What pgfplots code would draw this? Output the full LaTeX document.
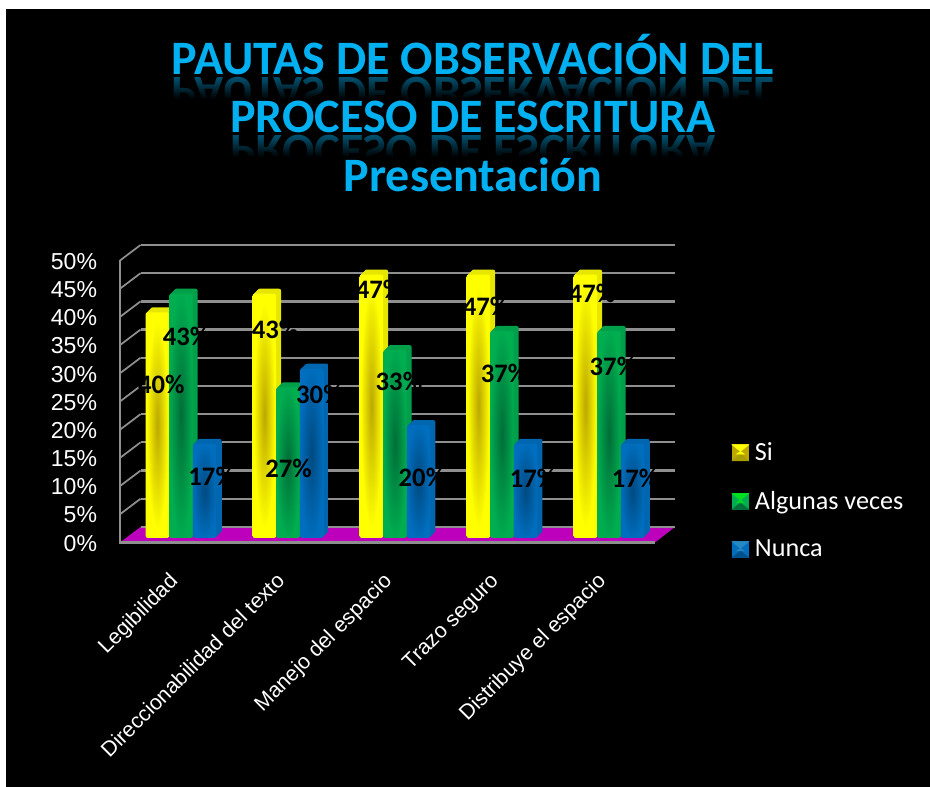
\documentclass[border=0pt]{standalone}
\usepackage{fontspec}
\setmainfont{Liberation Sans}
\newfontfamily\carlito{Carlito}
\usepackage{pgfplots}
\usetikzlibrary{fadings}
\pgfplotsset{compat=1.18}

\definecolor{ybr}{HTML}{FFFF00}\definecolor{ydk}{HTML}{BCA800}\definecolor{ysd}{HTML}{A89E00}\definecolor{ycap}{HTML}{E6E600}
\definecolor{gbr}{HTML}{00AE50}\definecolor{gdk}{HTML}{006E38}\definecolor{gsd}{HTML}{00703A}\definecolor{gcap}{HTML}{00A04A}
\definecolor{bbr}{HTML}{006EBE}\definecolor{bdk}{HTML}{004A80}\definecolor{bsd}{HTML}{00508E}\definecolor{bcap}{HTML}{0066B0}
\definecolor{ttl}{HTML}{00B0F0}
\definecolor{gridc}{HTML}{8F8F8F}
\definecolor{floorc}{HTML}{BC00BC}

\pgfdeclareradialshading{yb}{\pgfpointorigin}{color(0bp)=(ydk); color(23bp)=(ybr); color(50bp)=(ybr)}
\pgfdeclareradialshading{gb}{\pgfpointorigin}{color(0bp)=(gdk); color(26bp)=(gbr); color(50bp)=(gbr)}
\pgfdeclareradialshading{bb}{\pgfpointorigin}{color(0bp)=(bdk); color(26bp)=(bbr); color(50bp)=(bbr)}

\tikzfading[name=fadeout,top color=transparent!100,bottom color=transparent!0]

\pgfplotstableread{
x v1 v2 v3
0 40 43.3 16.7
1 43.3 26.7 30
2 46.7 33.3 20
3 46.7 36.7 16.7
4 46.7 36.7 16.7
}\datatable

\pgfplotstableread{
x y m
-0.114 28.1 40
0.949 37.85 43
1.921 44.8 47
2.921 41.8 47
3.911 44.2 47
0.117 36.6 43
1.075 13.2 27
2.107 28.5 33
3.089 29.9 37
4.107 31.3 37
0.357 11.8 17
1.364 26.3 30
2.322 11.6 20
3.36 11.4 17
4.313 11.4 17
}\labeltable

\tikzset{
 yfront/.style={shade,shading=yb}, gfront/.style={shade,shading=gb}, bfront/.style={shade,shading=bb},
 yside/.style={top color=ycap,middle color=ysd,bottom color=ycap},
 gside/.style={top color=gcap,middle color=gsd,bottom color=gcap},
 bside/.style={top color=bcap,middle color=bsd,bottom color=bcap},
}

% domain, column, style, bar shift, xshift, yshift
\newcommand\barlayer[6]{\addplot[ybar,forget plot,restrict x to domain=#1,bar width=17.6pt,bar shift=#4,draw=none,#3,xshift=#5,yshift=#6,rounded corners=1.5pt] table[x=x,y=#2]{\datatable};}
% domain, column, side, front, bar shift
\newcommand\onebar[5]{%
 \barlayer{#1}{#2}{#3}{#5}{9.35pt}{7.15pt}
 \barlayer{#1}{#2}{#3}{#5}{8.6pt}{6.4pt}
 \barlayer{#1}{#2}{#3}{#5}{7.85pt}{5.65pt}
 \barlayer{#1}{#2}{#3}{#5}{7.1pt}{4.9pt}
 \barlayer{#1}{#2}{#3}{#5}{6.35pt}{4.15pt}
 \barlayer{#1}{#2}{#4}{#5}{5.6pt}{3.4pt}
}
\newcommand\barseries[4]{%
 \onebar{-0.4:0.4}{#1}{#2}{#3}{#4}
 \onebar{0.6:1.4}{#1}{#2}{#3}{#4}
 \onebar{1.6:2.4}{#1}{#2}{#3}{#4}
 \onebar{2.6:3.4}{#1}{#2}{#3}{#4}
 \onebar{3.6:4.4}{#1}{#2}{#3}{#4}
}
\newcommand\pyr[4]{%
 \fill[#1] (0,-6pt) rectangle (12.4pt,6pt);
 \fill[#2] (0,6pt) -- (12.4pt,6pt) -- (6.2pt,1pt) -- cycle;
 \fill[#3] (0,-6pt) -- (12.4pt,-6pt) -- (6.2pt,-1pt) -- cycle;
 \fill[#4] (6.2pt,1pt) -- (3.2pt,-1pt) -- (9.2pt,-1pt) -- cycle;
}
\newcommand\titlefont{\carlito\bfseries\fontsize{36pt}{36pt}\selectfont}
\newcommand\mirror[2]{%
 \node[anchor=base,yscale=-1,text=ttl!45!black,font=\titlefont,inner sep=0pt] at (354.7pt,{(787-#2-3)*0.75pt}) {#1};
 \fill[black,path fading=fadeout] (100pt,{(787-#2-3)*0.75pt}) rectangle (600pt,{(787-#2-24)*0.75pt});
 \fill[black] (100pt,{(787-#2-24)*0.75pt}) rectangle (600pt,{(787-#2-46)*0.75pt});
}

\begin{document}
\begin{tikzpicture}[x=1pt,y=1pt]
\fill[white] (0,0) rectangle (697.5,590.25);
\fill[black] (4.5,0) rectangle (697.5,583.5);

\mirror{PAUTAS DE OBSERVACIÓN DEL}{75}
\mirror{PROCESO DE ESCRITURA}{133}
\node[anchor=base,text=ttl,font=\titlefont,inner sep=0pt] at (354.7pt,{(787-75)*0.75pt}) {PAUTAS DE OBSERVACIÓN DEL};
\node[anchor=base,text=ttl,font=\titlefont,inner sep=0pt] at (354.7pt,{(787-133)*0.75pt}) {PROCESO DE ESCRITURA};
\node[anchor=base,text=ttl,font=\titlefont,inner sep=0pt] at (354.7pt,{(787-192)*0.75pt}) {Presentación};

\begin{axis}[
 at={(90pt,183.4pt)},anchor=south west,
 scale only axis,width=416.25pt,height=223.1pt,
 xmin=-0.5,xmax=4.687,ymin=0,ymax=52.75,
 clip=false,
 axis line style={draw=none},
 major tick length=0pt,
 xtick={0,1,2,3,4},
 xticklabels={Legibilidad,Direccionabilidad del texto,Manejo del espacio,Trazo seguro,Distribuye el espacio},
 x tick label style={rotate=45,anchor=north east,inner sep=0pt,font=\fontsize{16pt}{16pt}\selectfont,text=white,xshift=-18.2pt,yshift=-12.2pt},
 ytick={0,5,10,15,20,25,30,35,40,45,50},
 yticklabels={0\%,5\%,10\%,15\%,20\%,25\%,30\%,35\%,40\%,45\%,50\%},
 y tick label style={font=\fontsize{17.3pt}{17.3pt}\selectfont,text=white,anchor=east,inner sep=0pt,xshift=-17pt,yshift=-0.6pt},
 legend style={at={(rel axis cs:1.102,0.345)},anchor=north west,draw=none,fill=none,
   text=white,font=\carlito\fontsize{19.6pt}{19.6pt}\selectfont,row sep=17.5pt,inner sep=0pt},
 legend cell align=left,
]
\addplot[forget plot,fill=floorc,draw=none] coordinates {(-0.5,0) (-0.308,2.75) (4.687,2.75) (4.5,0)} -- cycle;
\pgfplotsinvokeforeach{2.75,7.75,12.75,17.75,22.75,27.75,32.75,37.75,42.75,47.75,52.75}{
 \addplot[forget plot,gridc,line width=1.7pt] coordinates {(-0.308,#1) (4.687,#1)};
}
\pgfplotsinvokeforeach{5,10,15,20,25,30,35,40,45,50}{
 \addplot[forget plot,gridc,line width=1.3pt] coordinates {(-0.5,#1) (-0.308,#1+2.75)};
}
\addplot[forget plot,gridc,line width=1.7pt] coordinates {(-0.5,50) (-0.5,0) (4.5,0)};
\barseries{v1}{yside}{yfront}{-17.7pt}
\barseries{v2}{gside}{gfront}{0pt}
\barseries{v3}{bside}{bfront}{17.7pt}
\addplot[forget plot,only marks,mark=none,point meta=explicit,
  nodes near coords={\pgfmathprintnumber[assume math mode=true]{\pgfplotspointmeta}\%},
  nodes near coords style={anchor=center,text=black,font=\carlito\bfseries\fontsize{20pt}{20pt}\selectfont,inner sep=0pt},
  ] table[x=x,y=y,meta=m]{\labeltable};
\addlegendimage{legend image code/.code={\pyr{ydk}{ybr}{ysd}{ybr}}}
\addlegendentry{\hspace*{2.5pt}Si}
\addlegendimage{legend image code/.code={\pyr{gbr}{green!60!gbr}{gsd}{green!50!gbr}}}
\addlegendentry{\hspace*{2.5pt}Algunas veces}
\addlegendimage{legend image code/.code={\pyr{bbr}{cyan!40!bbr}{bsd}{cyan!30!bbr}}}
\addlegendentry{\hspace*{2.5pt}Nunca}
\end{axis}
\end{tikzpicture}
\end{document}
